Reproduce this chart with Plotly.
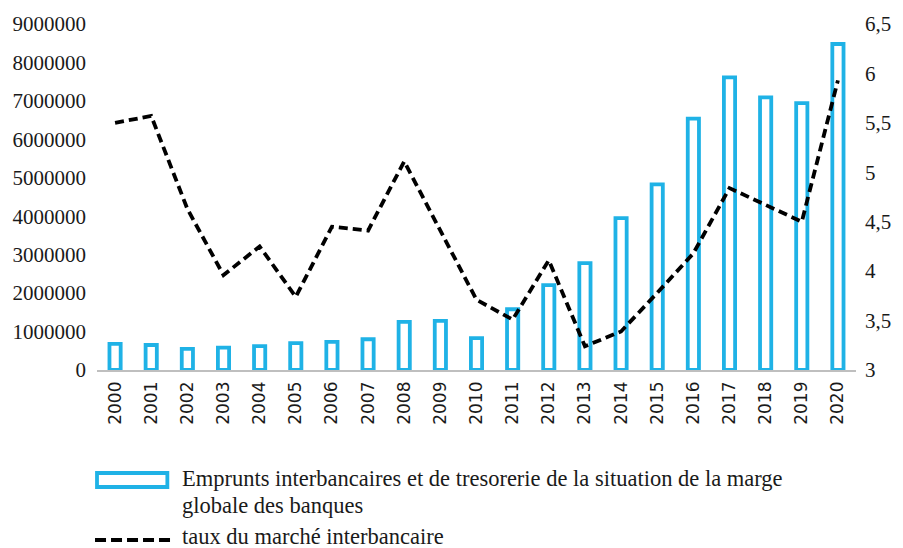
import plotly.graph_objects as go

years = [str(y) for y in range(2000, 2021)]
emprunts = [680000, 650000, 550000, 580000, 620000, 700000, 730000, 800000, 1250000, 1280000,
            830000, 1580000, 2210000, 2780000, 3950000, 4830000, 6540000, 7610000, 7090000, 6940000, 8480000]
taux = [5.50, 5.57, 4.63, 3.96, 4.25, 3.74, 4.45, 4.41, 5.11, 4.42,
        3.71, 3.51, 4.11, 3.24, 3.39, 3.78, 4.18, 4.84, 4.67, 4.50, 5.93]

bar_name_lines = ["Emprunts interbancaires et de tresorerie de la situation de la marge",
                  "globale des banques"]
bar_name = "<br>".join(bar_name_lines)
line_name = "taux du marché interbancaire"

CYAN = "rgb(31,178,230)"
SERIF = "Liberation Serif"

W, H = 903, 548
L, R, T, B = 97, 40, 24, 178
PW, PH = W - L - R, H - T - B

def px(x):
    return (x - L) / PW

def py(y):
    return (H - B - y) / PH

fig = go.Figure()
fig.add_trace(go.Bar(x=years, y=emprunts, name=bar_name, width=0.31,
                     marker=dict(color="white", line=dict(color=CYAN, width=3.8)),
                     showlegend=False))
fig.add_trace(go.Scatter(x=years, y=taux, name=line_name, yaxis="y2", mode="lines",
                         line=dict(color="black", width=3.8, dash="9px,5px"),
                         showlegend=False))

fig.update_layout(
    width=W, height=H,
    margin=dict(l=L, r=R, t=T, b=B),
    plot_bgcolor="white", paper_bgcolor="white",
    separators=", ",
    font=dict(family=SERIF, size=21, color="#1a1a1a"),
    xaxis=dict(type="category", showline=True, linecolor="#bfbfbf", linewidth=1.5,
               showgrid=False, ticks="", tickangle=-90, ticklabelstandoff=3,
               tickfont=dict(family="DejaVu Sans", size=17, color="#1a1a1a")),
    yaxis=dict(range=[0, 9000000], dtick=1000000, tickformat="d", showgrid=False,
               zeroline=False, ticks="", ticklabelstandoff=10,
               tickfont=dict(family=SERIF, size=21)),
    yaxis2=dict(range=[3, 6.5], dtick=0.5, overlaying="y", side="right", showgrid=False,
                zeroline=False, ticks="", ticklabelstandoff=8,
                tickfont=dict(family=SERIF, size=21)),
    bargap=0.7,
)

LEG_FONT = dict(family=SERIF, size=22.5, color="#1a1a1a")

# manual legend
fig.add_shape(type="rect", xref="paper", yref="paper",
              x0=px(97), x1=px(168), y0=py(487), y1=py(473),
              line=dict(color=CYAN, width=3.8), fillcolor="white")
fig.add_shape(type="line", xref="paper", yref="paper",
              x0=px(95), x1=px(171), y0=py(540), y1=py(540),
              line=dict(color="black", width=3.8, dash="11px,5px"))
for txt, yc in zip(bar_name_lines, [478, 505]):
    fig.add_annotation(xref="paper", yref="paper", x=px(181), y=py(yc),
                       xanchor="left", yanchor="middle", align="left", showarrow=False,
                       text=txt, font=LEG_FONT)
fig.add_annotation(xref="paper", yref="paper", x=px(181), y=py(536),
                   xanchor="left", yanchor="middle", align="left", showarrow=False,
                   text=line_name, font=LEG_FONT)

fig.write_html("out.html", config={"displayModeBar": False},
               post_script="document.body.style.margin='0px';")
